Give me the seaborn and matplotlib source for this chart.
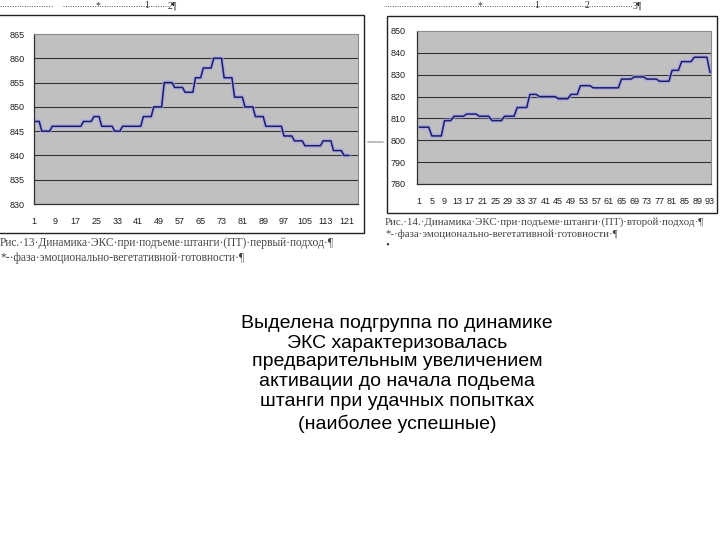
import numpy as np
import pandas as pd
import matplotlib
matplotlib.use('Agg')
import matplotlib.pyplot as plt
import seaborn as sns
from matplotlib.patches import Rectangle
from matplotlib.lines import Line2D

# данные: ЭКС, первый подход (рис. 13)
eks_1 = [847, 847, 847, 845, 845, 845, 845, 846, 846, 846, 846, 846, 846, 846, 846, 846,
         846, 846, 846, 847, 847, 847, 847, 848, 848, 848, 846, 846, 846, 846, 846, 845,
         845, 845, 846, 846, 846, 846, 846, 846, 846, 846, 848, 848, 848, 848, 850, 850,
         850, 850, 855, 855, 855, 855, 854, 854, 854, 854, 853, 853, 853, 853, 856, 856,
         856, 858, 858, 858, 858, 860, 860, 860, 860, 856, 856, 856, 856, 852, 852, 852,
         852, 850, 850, 850, 850, 848, 848, 848, 848, 846, 846, 846, 846, 846, 846, 846,
         844, 844, 844, 844, 843, 843, 843, 843, 842, 842, 842, 842, 842, 842, 842, 843,
         843, 843, 843, 841, 841, 841, 841, 840, 840, 840]
# данные: ЭКС, второй подход (рис. 14)
eks_2 = [806, 806, 806, 806, 802, 802, 802, 802, 809, 809, 809, 811, 811, 811, 811, 812,
         812, 812, 812, 811, 811, 811, 811, 809, 809, 809, 809, 811, 811, 811, 811, 815,
         815, 815, 815, 821, 821, 821, 820, 820, 820, 820, 820, 820, 819, 819, 819, 819,
         821, 821, 821, 825, 825, 825, 825, 824, 824, 824, 824, 824, 824, 824, 824, 824,
         828, 828, 828, 828, 829, 829, 829, 829, 828, 828, 828, 828, 827, 827, 827, 827,
         832, 832, 832, 836, 836, 836, 836, 838, 838, 838, 838, 838, 831]
yticks_1 = [830, 835, 840, 845, 850, 855, 860, 865]
yticks_2 = [780, 790, 800, 810, 820, 830, 840, 850]

cap_1 = ["Рис.·13·Динамика·ЭКС·при·подъеме·штанги·(ПТ)·первый·подход·¶",
         "*-·фаза·эмоционально-вегетативной·готовности·¶"]
cap_2 = ["Рис.·14.·Динамика·ЭКС·при·подъеме·штанги·(ПТ)·второй·подход·¶",
         "*-·фаза·эмоционально-вегетативной·готовности·¶",
         "•"]
main_lines = ["Выделена подгруппа по динамике",
              "ЭКС характеризовалась",
              "предварительным увеличением",
              "активации до начала подьема",
              "штанги при удачных попытках",
              "(наиболее успешные)"]

sns.set_style('white')
plt.rcParams['font.family'] = ['Liberation Sans', 'DejaVu Sans']

W, H = 720, 540
fig = plt.figure(figsize=(7.2, 5.4), dpi=100)


def rect(l, t, r, b):
    return [l / W, 1 - b / H, (r - l) / W, (b - t) / H]


def fx(x):
    return x / W


def fy(y):
    return 1 - y / H


# рамки диаграмм (под осями)
for l, t, r, b in [(-2, 15, 364, 233), (387, 16, 717, 213)]:
    fig.patches.append(Rectangle((fx(l), fy(b)), fx(r) - fx(l), fy(t) - fy(b),
                                 transform=fig.transFigure, fill=True, facecolor='white',
                                 edgecolor='#222222', lw=1.0, zorder=-5))


def draw_chart(ax, vals, yticks, step, xlim):
    df = pd.DataFrame({'n': np.arange(1, len(vals) + 1), 'v': vals})
    ax.set_facecolor('#c0c0c0')
    sns.lineplot(data=df, x='n', y='v', ax=ax, color='#a4a4e8', lw=3.0, alpha=0.7)
    sns.lineplot(data=df, x='n', y='v', ax=ax, color='#1b1b6b', lw=1.1)
    ax.set_xlim(*xlim)
    ax.set_ylim(yticks[0], yticks[-1])
    ax.set_yticks(yticks)
    ax.set_xticks(np.arange(1, len(vals) + 2, step))
    ax.set_xticks(np.arange(1, int(xlim[1]) + 1), minor=True)
    for y in yticks[1:-1]:
        ax.axhline(y, color='#333333', lw=0.8, zorder=1)
    ax.set_xlabel('')
    ax.set_ylabel('')
    for s in ['left', 'bottom']:
        ax.spines[s].set_color('#303030')
        ax.spines[s].set_linewidth(0.9)
    for s in ['top', 'right']:
        ax.spines[s].set_color('#8a8a8a')
        ax.spines[s].set_linewidth(0.8)
    ax.tick_params(axis='both', which='both', direction='out', length=3, width=0.6,
                   color='#303030', labelsize=6.5, labelcolor='#202020')
    ax.tick_params(axis='y', pad=4)
    ax.tick_params(axis='x', pad=6)


ax1 = fig.add_axes(rect(34, 34, 358, 204))
draw_chart(ax1, eks_1, yticks_1, 8, (1, 125.4))
ax2 = fig.add_axes(rect(417, 31, 711, 184))
draw_chart(ax2, eks_2, yticks_2, 4, (0.3, 93.3))
ax2.tick_params(axis='y', pad=5)

# точечные строки сверху (колонтитул документа)
for x0, x1 in [(0, 52), (63, 168), (385, 632)]:
    fig.lines.append(Line2D([fx(x0), fx(x1)], [fy(6), fy(6)], transform=fig.transFigure,
                            color='#555555', lw=0.7, ls=(0, (1, 1.5))))
serif = ['Liberation Serif', 'DejaVu Serif']
for x, s in [(98, '*'), (147, '1'), (172, '2¶'), (480, '*'), (537, '1'), (587, '2'), (637, '3¶')]:
    fig.text(fx(x), fy(6), s, ha='center', va='center', fontsize=7, family=serif, color='#333333')

# короткая черта между диаграммами
fig.lines.append(Line2D([fx(368), fx(383)], [fy(142), fy(142)], transform=fig.transFigure,
                        color='#b0b0b0', lw=1.2))

# подписи рисунков
for y, s in zip([243, 258], cap_1):
    fig.text(fx(0), fy(y), s, ha='left', va='center', fontsize=8.3, family=serif, color='#444444')
for y, s in zip([222, 234, 245], cap_2):
    fig.text(fx(385), fy(y), s, ha='left', va='center', fontsize=7.8, family=serif, color='#444444')

# основной текст слайда
for y, s in zip([323, 343, 362, 382, 401, 424], main_lines):
    fig.text(fx(397), fy(y), s, ha='center', va='center', fontsize=14, color='black')

fig.savefig('out.png', dpi=100)
